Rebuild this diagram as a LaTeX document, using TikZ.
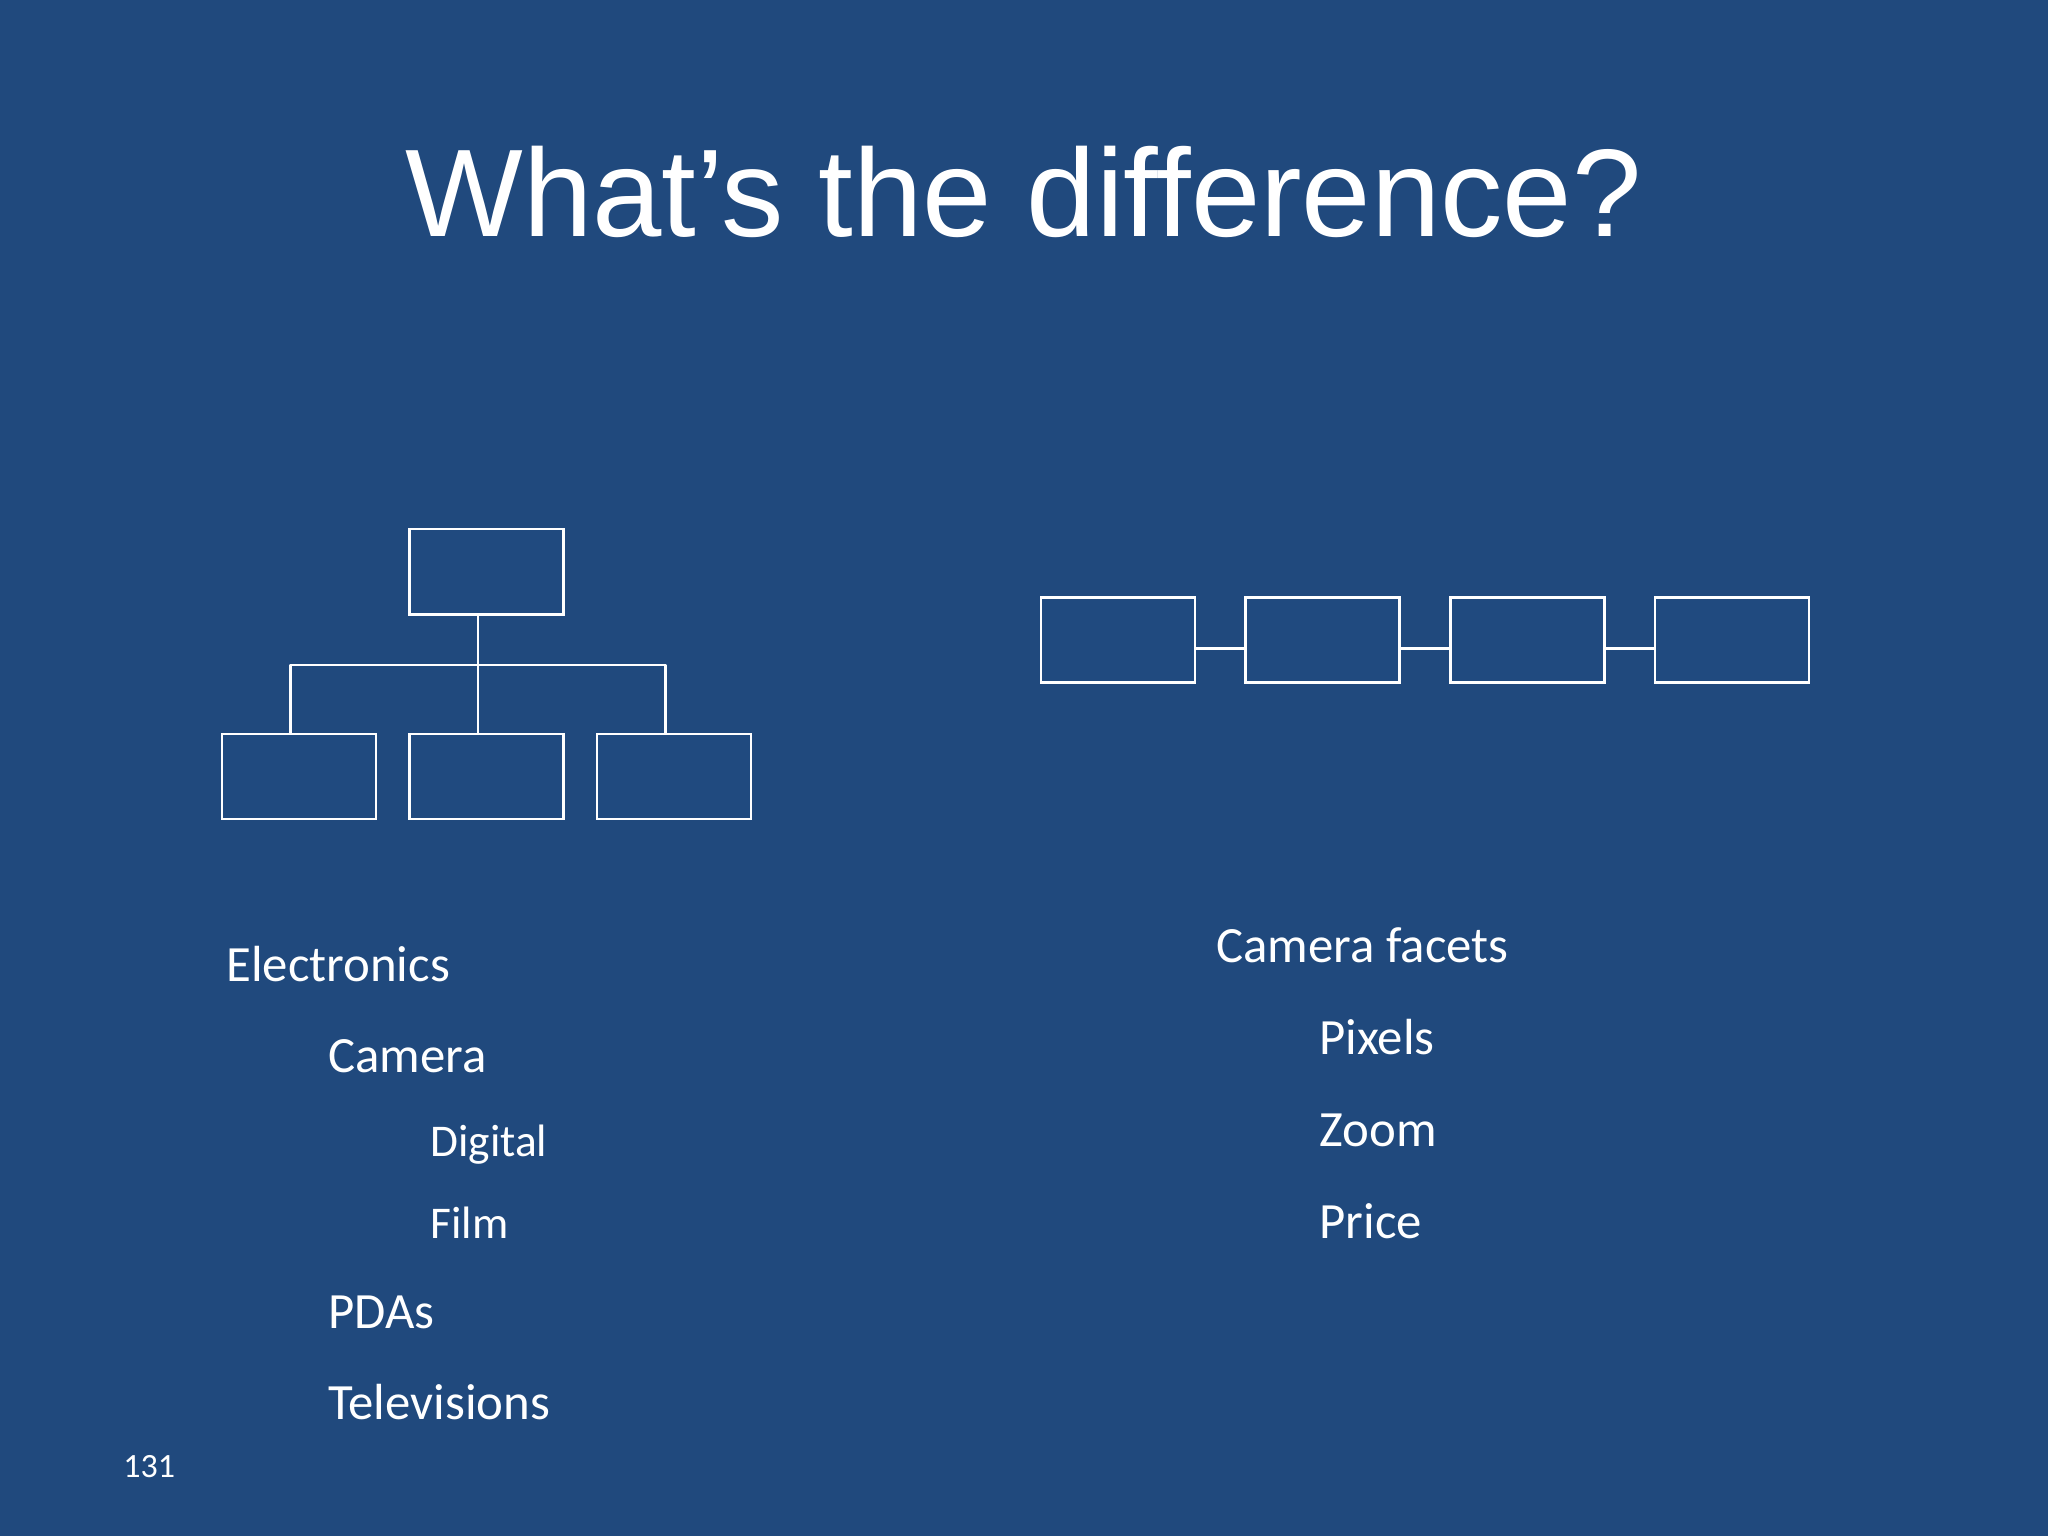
\documentclass[tikz,border=0pt]{standalone}
\usepackage{fontspec}
\setmainfont{Carlito}
\newfontfamily\titlefont{Liberation Sans}
\definecolor{bgblue}{RGB}{32,73,125}
\definecolor{boxblue}{RGB}{32,74,127}
\tikzset{
  box/.style={draw=white, fill=boxblue, line width=1.3pt, rectangle, inner sep=0pt},
  link/.style={draw=white, line width=1.3pt},
  lvlone/.style={text=white, anchor=base west, inner sep=0pt, font=\fontsize{25.4}{30}\selectfont},
  lvlthree/.style={text=white, anchor=base west, inner sep=0pt, font=\fontsize{22.7}{27}\selectfont},
}
\begin{document}
\begin{tikzpicture}[x=0.5pt, y=-0.5pt]
\fill[bgblue] (0,0) rectangle (2048,1536);
\useasboundingbox (0,0) rectangle (2048,1536);

% title
\node[text=white, anchor=base, inner sep=0pt, font=\titlefont\fontsize{62.35}{70}\selectfont] (title) at (1023.5,236) {What’s the difference?};

% tree
\node[box, minimum width=77pt, minimum height=42.6pt] (root) at (486.5,571.7) {};
\node[box, minimum width=77pt, minimum height=42.5pt] (c1) at (299,776.5) {};
\node[box, minimum width=77pt, minimum height=42.5pt] (c2) at (486.5,776.5) {};
\node[box, minimum width=77pt, minimum height=42.5pt] (c3) at (674,776.5) {};
\coordinate (stem) at (478,614.3);
\coordinate (jl) at (290.3,665);
\coordinate (jm) at (478,665);
\coordinate (jr) at (665.4,665);
\draw[link] (stem) -- (jm);
\draw[link, line join=round] (jl |- c1.north) -- (jl) -- (jr) -- (jr |- c3.north);
\draw[link] (jm) -- (jm |- c2.north);

% chain
\node[box, minimum width=77pt, minimum height=42.7pt] (f1) at (1117.8,640) {};
\node[box, minimum width=77pt, minimum height=42.7pt] (f2) at (1322.6,640) {};
\node[box, minimum width=77pt, minimum height=42.7pt] (f3) at (1527.3,640) {};
\node[box, minimum width=77pt, minimum height=42.7pt] (f4) at (1732.1,640) {};
\draw[link] (f1.east |- 0,648.3) -- (f2.west |- 0,648.3);
\draw[link] (f2.east |- 0,648.3) -- (f3.west |- 0,648.3);
\draw[link] (f3.east |- 0,648.3) -- (f4.west |- 0,648.3);

% left list
\node[lvlone] (electronics) at (226,981) {Electronics};
\node[lvlone] (camera) at (328,1072) {Camera};
\node[lvlthree] (digital) at (430,1156) {Digital};
\node[lvlthree] (film) at (430,1238) {Film};
\node[lvlone] (pdas) at (328,1328) {PDAs};
\node[lvlone] (tv) at (328,1419) {Televisions};

% right list
\node[lvlone] (facets) at (1216,962) {Camera facets};
\node[lvlone] (pixels) at (1319,1054) {Pixels};
\node[lvlone] (zoom) at (1319,1146) {Zoom};
\node[lvlone] (price) at (1319,1238) {Price};

% page number
\node[text=white, anchor=base west, inner sep=0pt, font=\fontsize{17}{20}\selectfont] (pagenum) at (123,1477) {131};
\end{tikzpicture}
\end{document}
